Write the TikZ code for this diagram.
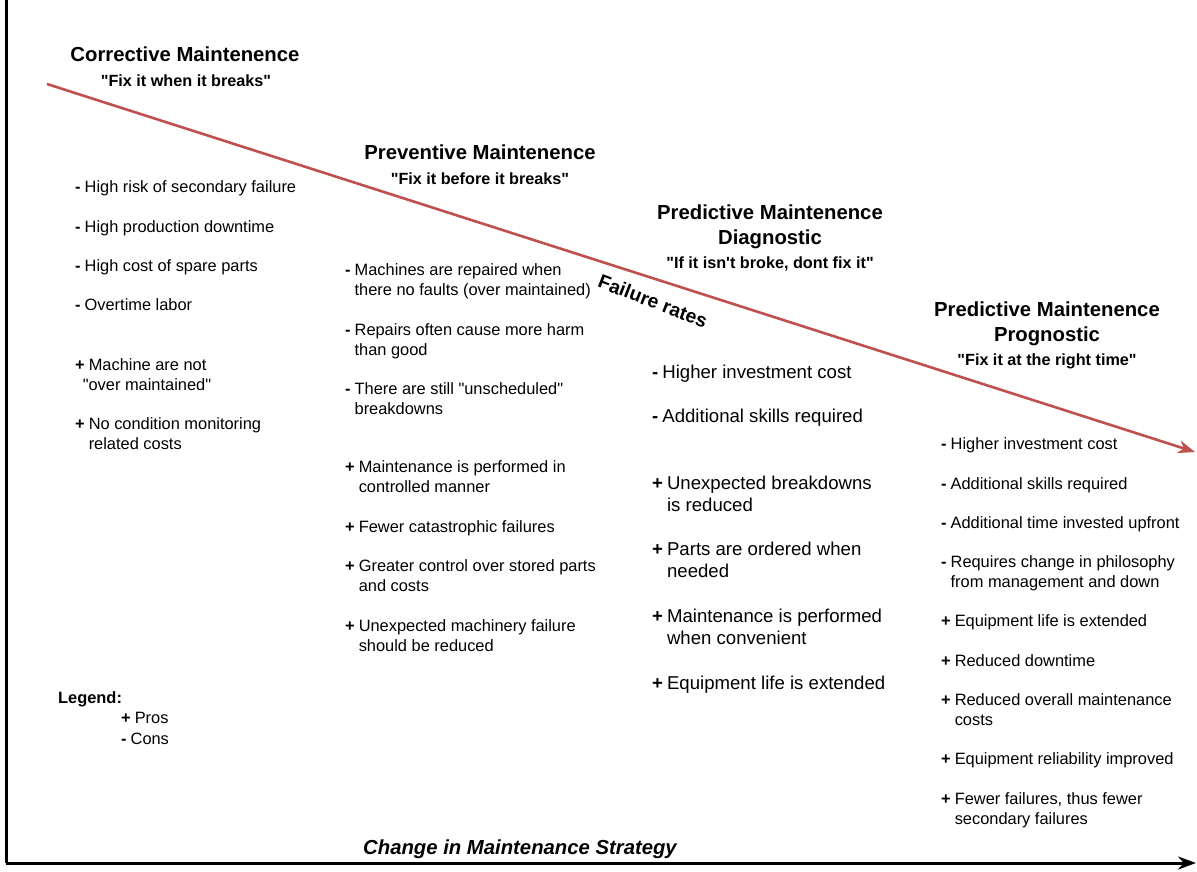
\documentclass[tikz,border=0pt]{standalone}
\usepackage{fontspec}
\setmainfont{Liberation Sans}
\usetikzlibrary{arrows.meta}

\definecolor{trend}{RGB}{192,80,77}

% straight typewriter-style quotes
\newcommand{\dq}{\textquotedbl}
\newcommand{\sq}{\textquotesingle}

% one list item: bold sign, then text; continuation rows start with &
\newcommand{\itm}[2]{\begin{tabular}[t]{@{}l@{\hspace{4pt}}l@{}}\textbf{#1}&#2\end{tabular}}

\tikzset{
  axis/.style={line width=3pt, draw=black, -{Stealth[length=18pt,width=13pt]}},
  trendline/.style={line width=2.6pt, draw=trend, -{Stealth[length=17pt,width=13pt]}},
  body/.style={anchor=base west, inner sep=0pt, font=\fontsize{16.4}{20}\selectfont},
  bigbody/.style={anchor=base west, inner sep=0pt, font=\fontsize{18.6}{22.5}\selectfont},
  title/.style={anchor=base, inner sep=0pt, font=\fontsize{20.3}{24}\selectfont\bfseries},
  motto/.style={anchor=base, inner sep=0pt, font=\fontsize{16.2}{20}\selectfont\bfseries},
}

\begin{document}
\begin{tikzpicture}[x=1pt, y=-1pt]
\useasboundingbox (0,0) rectangle (1197,871);

% axes
\coordinate (top) at (6,0);
\coordinate (origin) at (6,863);
\coordinate (xend) at (1196,863);
\draw[line width=3pt] (top) -- (origin);
\draw[axis] (origin) -- (xend);

% failure-rate trend
\coordinate (tstart) at (47,84);
\coordinate (tend) at (1195,452);
\draw[trendline] (tstart) -- (tend);
\node[inner sep=0pt, rotate=-21, font=\fontsize{19.3}{23}\selectfont\bfseries] (frates) at (653,301) {Failure rates};

% strategy headings
\node[title] (corr) at (185,61) {Corrective Maintenence};
\node[motto] (corrm) at (186,86) {\dq Fix it when it breaks\dq};

\node[title] (prev) at (480,159) {Preventive Maintenence};
\node[motto] (prevm) at (480,184) {\dq Fix it before it breaks\dq};

\node[title] (diag) at (770,219) {Predictive Maintenence};
\node[title] (diag2) at (770,244) {Diagnostic};
\node[motto] (diagm) at (770,268) {\dq If it isn\sq t broke, dont fix it\dq};

\node[title] (prog) at (1047,316) {Predictive Maintenence};
\node[title] (prog2) at (1047,341) {Prognostic};
\node[motto] (progm) at (1047,365) {\dq Fix it at the right time\dq};

% corrective
\node[body] (c1) at (75,192) {\itm{-}{High risk of secondary failure}};
\node[body] (c2) at (75,232) {\itm{-}{High production downtime}};
\node[body] (c3) at (75,271) {\itm{-}{High cost of spare parts}};
\node[body] (c4) at (75,310) {\itm{-}{Overtime labor}};
\node[body] (c5) at (75,370) {\itm{+}{Machine are not\\ & \hspace{-6pt}\dq over maintained\dq}};
\node[body] (c6) at (75,429) {\itm{+}{No condition monitoring\\ & related costs}};

% preventive
\node[body] (p1) at (345,275) {\itm{-}{Machines are repaired when\\ & there no faults (over maintained)}};
\node[body] (p2) at (345,335) {\itm{-}{Repairs often cause more harm\\ & than good}};
\node[body] (p3) at (345,394) {\itm{-}{There are still \dq unscheduled\dq\\ & breakdowns}};
\node[body] (p4) at (345,472) {\itm{+}{Maintenance is performed in\\ & controlled manner}};
\node[body] (p5) at (345,532) {\itm{+}{Fewer catastrophic failures}};
\node[body] (p6) at (345,571) {\itm{+}{Greater control over stored parts\\ & and costs}};
\node[body] (p7) at (345,631) {\itm{+}{Unexpected machinery failure\\ & should be reduced}};

% predictive, diagnostic
\node[bigbody] (d1) at (652,378) {\itm{-}{Higher investment cost}};
\node[bigbody] (d2) at (652,422) {\itm{-}{Additional skills required}};
\node[bigbody] (d3) at (652,489) {\itm{+}{Unexpected breakdowns\\ & is reduced}};
\node[bigbody] (d4) at (652,555) {\itm{+}{Parts are ordered when\\ & needed}};
\node[bigbody] (d5) at (652,622) {\itm{+}{Maintenance is performed\\ & when convenient}};
\node[bigbody] (d6) at (652,689) {\itm{+}{Equipment life is extended}};

% predictive, prognostic
\node[body] (g1) at (941,449) {\itm{-}{Higher investment cost}};
\node[body] (g2) at (941,489) {\itm{-}{Additional skills required}};
\node[body] (g3) at (941,528) {\itm{-}{Additional time invested upfront}};
\node[body] (g4) at (941,567) {\itm{-}{Requires change in philosophy\\ & from management and down}};
\node[body] (g5) at (941,626) {\itm{+}{Equipment life is extended}};
\node[body] (g6) at (941,666) {\itm{+}{Reduced downtime}};
\node[body] (g7) at (941,705) {\itm{+}{Reduced overall maintenance\\ & costs}};
\node[body] (g8) at (941,764) {\itm{+}{Equipment reliability improved}};
\node[body] (g9) at (941,804) {\itm{+}{Fewer failures, thus fewer\\ & secondary failures}};

% legend
\node[body, font=\fontsize{16.4}{20}\selectfont\bfseries] (leg) at (58,703) {Legend:};
\node[body] (lpro) at (121,723) {\itm{+}{Pros}};
\node[body] (lcon) at (121,744) {\itm{-}{Cons}};

% x-axis caption
\node[anchor=base, inner sep=0pt, font=\fontsize{20.3}{24}\selectfont\bfseries\itshape] (xlab) at (520,854) {Change in Maintenance Strategy};
\end{tikzpicture}
\end{document}
